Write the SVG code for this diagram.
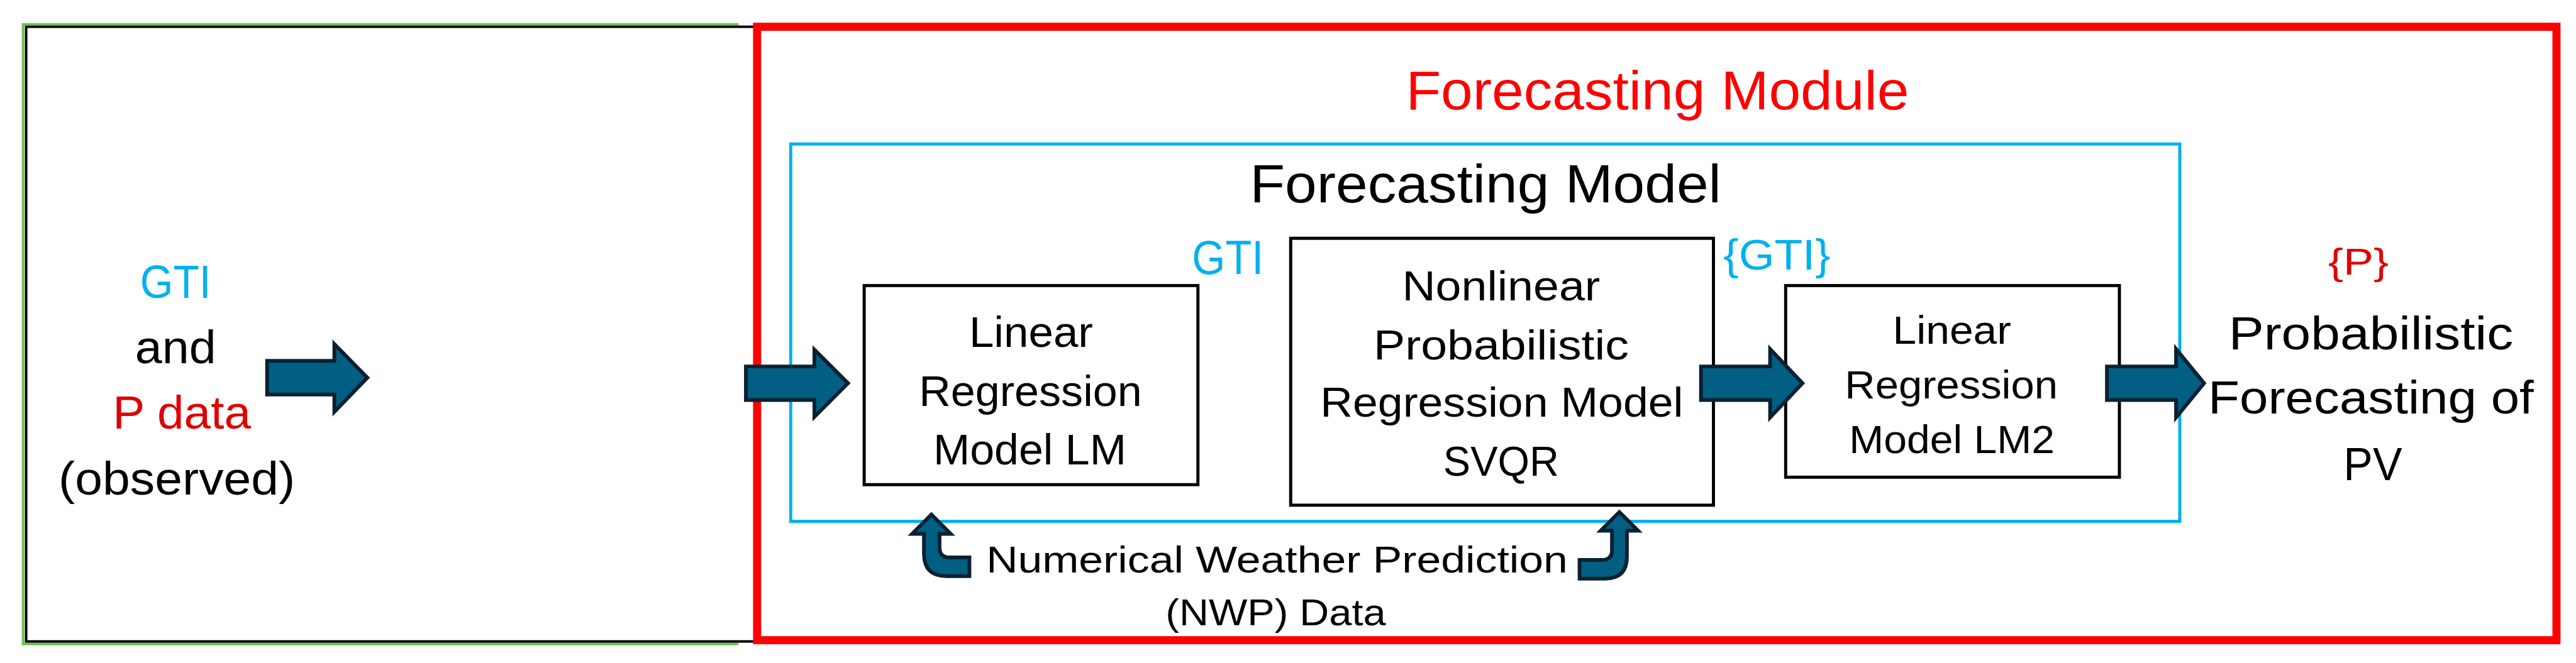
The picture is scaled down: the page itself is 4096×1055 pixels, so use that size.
<svg xmlns="http://www.w3.org/2000/svg" width="4096" height="1055" viewBox="0 0 4096 1055">
<style>
text{font-family:"Liberation Sans",Arial,sans-serif;text-anchor:middle;fill:#000}
.blk{fill:none;stroke:#000;stroke-width:5}
.arr{fill:#005F82;stroke:#0B2130;stroke-width:6;stroke-linejoin:miter}
.blue{fill:#00B0F0}
.red{fill:#FF0000}
.dred{fill:#E00000}
</style>
<rect width="4096" height="1055" fill="#fff"/>
<g transform="scale(0.99)">
<g id="input-box">
<path d="M1186,39 H37 V1035 H1186" fill="none" stroke="#6CC04A" stroke-width="4"/>
<rect x="42" y="43" width="1174" height="988" fill="none" stroke="#000" stroke-width="4"/>
<text x="282" y="479" font-size="74" class="blue" textLength="114" lengthAdjust="spacingAndGlyphs">GTI</text>
<text x="282" y="584" font-size="74" textLength="130" lengthAdjust="spacingAndGlyphs">and</text>
<text x="292" y="689" font-size="74" class="dred" textLength="222" lengthAdjust="spacingAndGlyphs">P data</text>
<text x="284" y="795" font-size="74" textLength="380" lengthAdjust="spacingAndGlyphs">(observed)</text>
</g>
<g id="forecasting-module">
<rect x="1216" y="43" width="2890" height="986" fill="none" stroke="#FF0000" stroke-width="13"/>
<text x="2662" y="176" font-size="88" class="red" textLength="808" lengthAdjust="spacingAndGlyphs">Forecasting Module</text>
</g>
<g id="forecasting-model">
<rect x="1270" y="231.5" width="2231" height="606.5" fill="none" stroke="#00B0F0" stroke-width="5"/>
<text x="2386" y="325" font-size="87" textLength="757" lengthAdjust="spacingAndGlyphs">Forecasting Model</text>
</g>
<g id="lm">
<rect x="1388" y="459" width="536" height="320" class="blk"/>
<text x="1656" y="558" font-size="70" textLength="199" lengthAdjust="spacingAndGlyphs">Linear</text>
<text x="1655" y="653" font-size="70" textLength="358" lengthAdjust="spacingAndGlyphs">Regression</text>
<text x="1654" y="746" font-size="70" textLength="310" lengthAdjust="spacingAndGlyphs">Model LM</text>
</g>
<g id="svqr">
<rect x="2073" y="383" width="679" height="429" class="blk"/>
<text x="2411" y="483" font-size="68" textLength="318" lengthAdjust="spacingAndGlyphs">Nonlinear</text>
<text x="2411" y="578" font-size="68" textLength="410" lengthAdjust="spacingAndGlyphs">Probabilistic</text>
<text x="2412" y="670" font-size="68" textLength="583" lengthAdjust="spacingAndGlyphs">Regression Model</text>
<text x="2411" y="765" font-size="68" textLength="186" lengthAdjust="spacingAndGlyphs">SVQR</text>
</g>
<g id="lm2">
<rect x="2868" y="459" width="536" height="308" class="blk"/>
<text x="3135" y="553" font-size="64" textLength="190" lengthAdjust="spacingAndGlyphs">Linear</text>
<text x="3134" y="640" font-size="64" textLength="342" lengthAdjust="spacingAndGlyphs">Regression</text>
<text x="3135" y="728" font-size="64" textLength="330" lengthAdjust="spacingAndGlyphs">Model LM2</text>
</g>
<g id="output">
<text x="3788" y="441" font-size="60" class="dred" textLength="97" lengthAdjust="spacingAndGlyphs">{P}</text>
<text x="3808" y="562" font-size="75" textLength="457" lengthAdjust="spacingAndGlyphs">Probabilistic</text>
<text x="3808" y="665" font-size="75" textLength="523" lengthAdjust="spacingAndGlyphs">Forecasting of</text>
<text x="3811" y="772" font-size="75" textLength="94" lengthAdjust="spacingAndGlyphs">PV</text>
</g>
<g id="nwp">
<text x="2051" y="920" font-size="60" textLength="934" lengthAdjust="spacingAndGlyphs">Numerical Weather Prediction</text>
<text x="2049" y="1005" font-size="60" textLength="354" lengthAdjust="spacingAndGlyphs">(NWP) Data</text>
</g>
<g id="connectors">
<path class="arr" d="M429,580 H537 V553 L590,607 L537,662 V634 H429 Z"/>
<path class="arr" d="M1198,589 H1308 V562 L1362,616 L1308,670 V643 H1198 Z"/>
<path class="arr" d="M2732,589 H2843 V561 L2895,616 L2843,671 V643 H2732 Z"/>
<path class="arr" d="M3384,589 H3495 V561 L3540,616 L3495,671 V643 H3384 Z"/>
<path class="arr" stroke-width="5" d="M1496,827 L1527,858 L1509,858 L1509,880 Q1509,896 1525,896 L1557,896 L1557,926 L1520,926 Q1484,926 1484,890 L1484,858 L1465,858 Z"/>
<path class="arr" stroke-width="5" d="M2601,823 L2631,853 L2613,853 L2613,895 Q2613,930 2578,930 L2537,930 L2537,900 L2572,900 Q2589,900 2589,885 L2589,853 L2571,853 Z"/>
<text x="1972" y="440" font-size="76" class="blue" textLength="115" lengthAdjust="spacingAndGlyphs">GTI</text>
<text x="2854" y="433" font-size="70" class="blue" textLength="172" lengthAdjust="spacingAndGlyphs">{GTI}</text>
</g>
</g>
</svg>
